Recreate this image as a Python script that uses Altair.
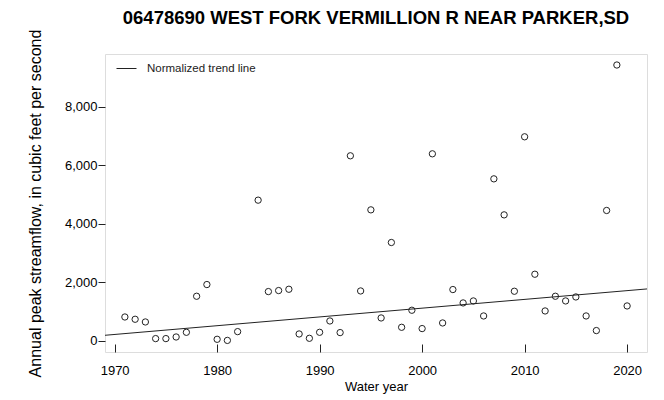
import altair as alt
import pandas as pd

FONT = "Liberation Sans"

# Annual peak streamflow (cfs) by water year
years = [1971, 1972, 1973, 1974, 1975, 1976, 1977, 1978, 1979, 1980,
         1981, 1982, 1984, 1985, 1986, 1987, 1988, 1989, 1990, 1991,
         1992, 1993, 1994, 1995, 1996, 1997, 1998, 1999, 2000, 2001,
         2002, 2003, 2004, 2005, 2006, 2007, 2008, 2009, 2010, 2011,
         2012, 2013, 2014, 2015, 2016, 2017, 2018, 2019, 2020]
peaks = [820, 742, 650, 82, 82, 137, 297, 1528, 1928, 58,
         20, 320, 4810, 1688, 1723, 1767, 240, 92, 297, 684,
         287, 6325, 1709, 4479, 787, 3364, 468, 1050, 424, 6393,
         616, 1757, 1300, 1368, 855, 5538, 4308, 1699, 6974, 2280,
         1026, 1528, 1368, 1504, 855, 356, 4458, 9426, 1197]

# Normalized trend line end points
trend_years = [1969, 2022]
trend_values = [193, 1780]
trend_label = "Normalized trend line"

x_ticks = [1970, 1980, 1990, 2000, 2010, 2020]
y_ticks = [0, 2000, 4000, 6000, 8000]

peaks_df = pd.DataFrame({"year": years, "peak": peaks})
trend_df = pd.DataFrame({"year": trend_years, "peak": trend_values,
                         "series": [trend_label] * len(trend_years)})

x_scale = alt.Scale(domain=[1969.06, 2021.94], nice=False, zero=False)
y_scale = alt.Scale(domain=[-376, 9802], nice=False, zero=False)

x_axis = alt.Axis(values=x_ticks, format="d", title="Water year",
                  grid=False, domain=False, offset=-8, tickSize=8,
                  tickColor="#222", labelPadding=12, labelFontSize=13,
                  labelFont=FONT, labelColor="#000", titleFont=FONT,
                  titleFontSize=13, titleFontWeight="normal",
                  titleColor="#000", titlePadding=3)
y_axis = alt.Axis(values=y_ticks, format=",.0f", grid=False, domain=False,
                  title="Annual peak streamflow, in cubic feet per second",
                  tickSize=7, tickColor="#222", labelPadding=1,
                  labelFontSize=13, labelFont=FONT, labelColor="#000",
                  titleFont=FONT, titleFontSize=16, titleFontWeight="normal",
                  titleColor="#000", titlePadding=21)

points = alt.Chart(peaks_df).mark_point(
    shape="circle", filled=False, size=40, stroke="#222", strokeWidth=1,
    opacity=1
).encode(
    x=alt.X("year:Q", scale=x_scale, axis=x_axis),
    y=alt.Y("peak:Q", scale=y_scale, axis=y_axis),
)

trend = alt.Chart(trend_df).mark_line(clip=True, strokeWidth=1).encode(
    x=alt.X("year:Q", scale=x_scale),
    y=alt.Y("peak:Q", scale=y_scale),
    color=alt.Color("series:N", scale=alt.Scale(range=["#222"]),
                    legend=alt.Legend(title=None, orient="none",
                                      legendX=11, legendY=4,
                                      symbolType="stroke", symbolSize=400,
                                      symbolStrokeWidth=1,
                                      symbolStrokeColor="#555",
                                      labelFont=FONT, labelFontSize=11.5,
                                      labelColor="#222", labelOffset=10,
                                      padding=0)),
)

chart = alt.layer(trend, points).properties(
    width=542,
    height=298,
    title=alt.TitleParams(
        "06478690 WEST FORK VERMILLION R NEAR PARKER,SD",
        font=FONT, fontSize=18.5, fontWeight="bold", color="#000",
        anchor="middle", baseline="bottom", offset=4, dy=21,
    ),
    autosize=alt.AutoSizeParams(type="none"),
    padding={"left": 97, "top": 46, "right": 9, "bottom": 46},
).configure_view(
    stroke="#444", strokeWidth=1
).configure(background="white")

chart.save("out.html", embed_options={"renderer": "svg", "actions": False})
